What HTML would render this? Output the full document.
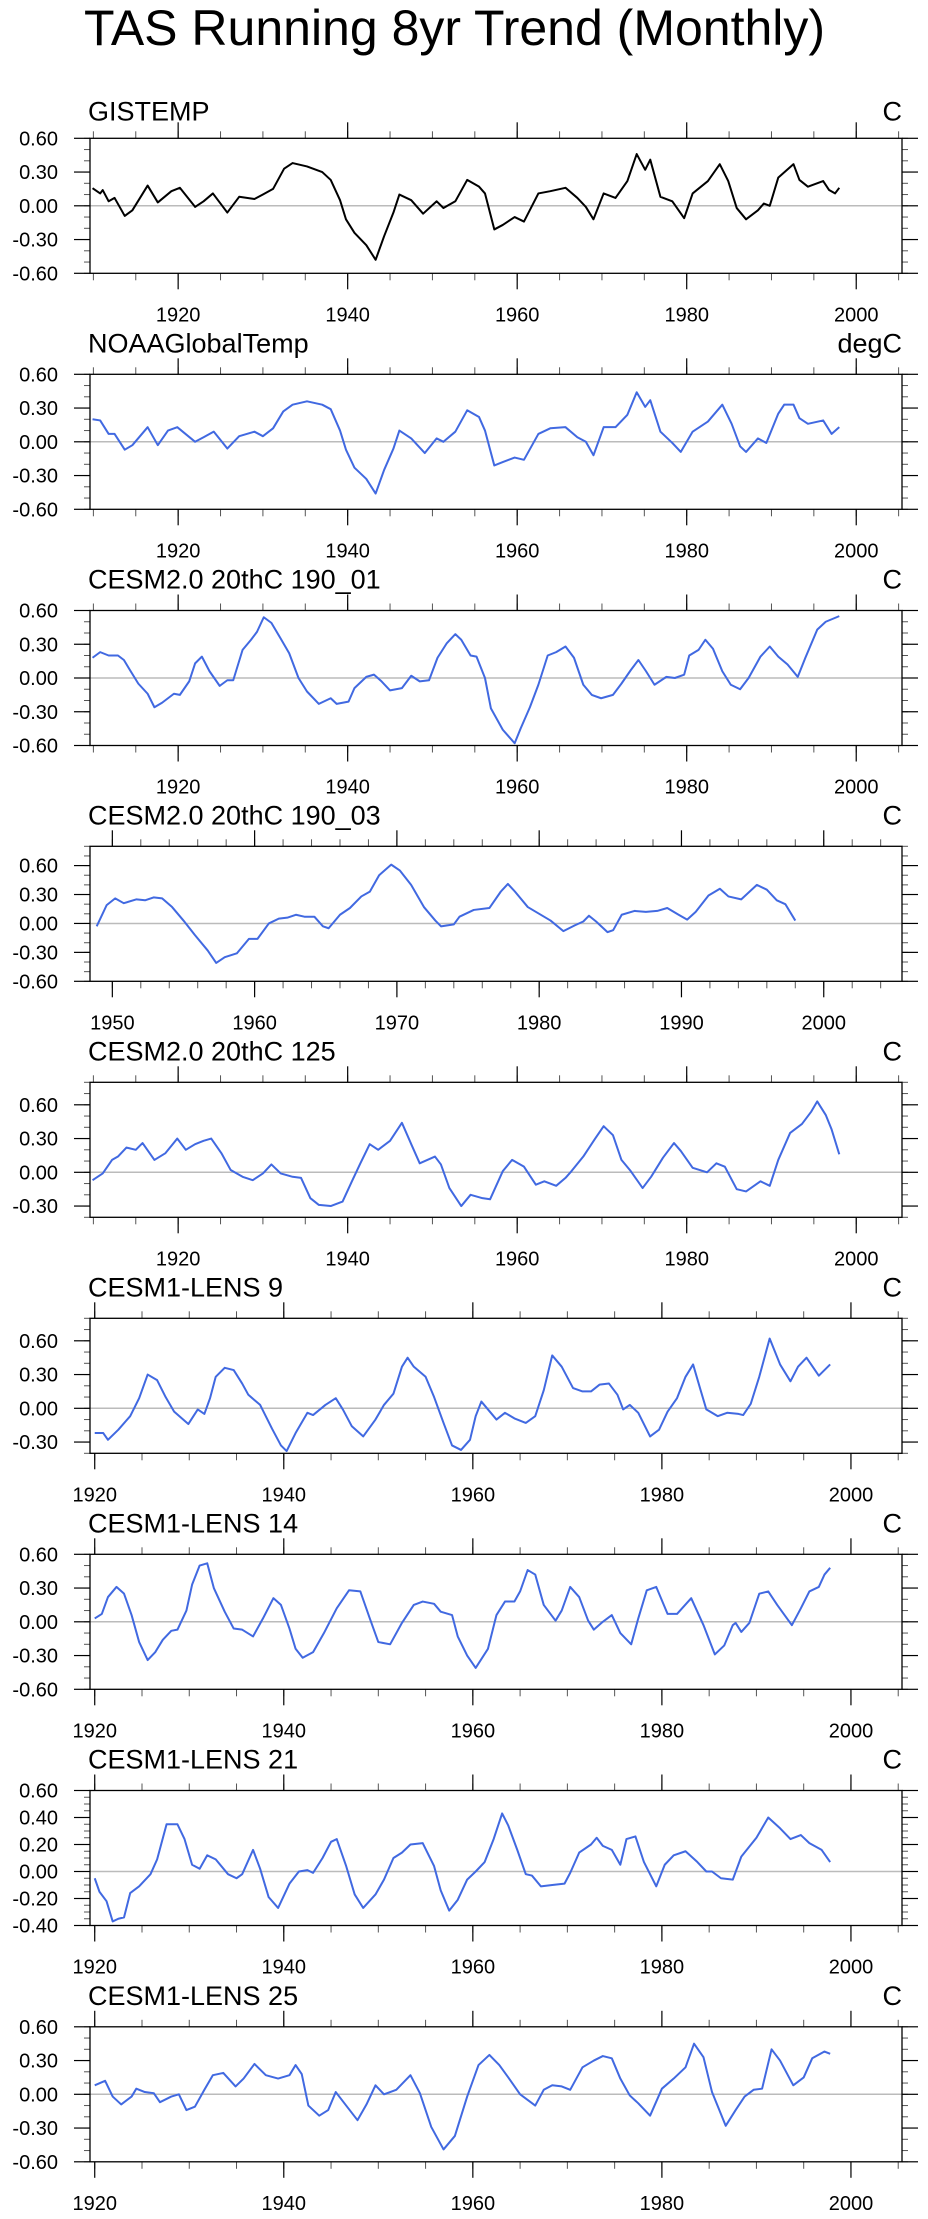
<!DOCTYPE html>
<html><head><meta charset="utf-8"><style>
html,body{margin:0;padding:0;background:#fff;}
svg{display:block;font-family:"Liberation Sans",Arial,sans-serif;}
</style></head><body>
<svg id="chart" width="928" height="2219" viewBox="0 0 928 2219" xmlns="http://www.w3.org/2000/svg">
<rect width="928" height="2219" fill="#fff"/>
<text x="84" y="45" font-size="50" fill="#000">TAS Running 8yr Trend (Monthly)</text>
</svg>
<script>
const titles = ["GISTEMP","NOAAGlobalTemp","CESM2.0 20thC 190_01","CESM2.0 20thC 190_03","CESM2.0 20thC 125","CESM1-LENS 9","CESM1-LENS 14","CESM1-LENS 21","CESM1-LENS 25"];
const units = ["C","degC","C","C","C","C","C","C","C"];
const yMins = [-0.6,-0.6,-0.6,-0.6,-0.4,-0.4,-0.6,-0.4,-0.6];
const yMaxs = [0.6,0.6,0.6,0.8,0.8,0.8,0.6,0.6,0.6];
const yTickLabels = [[0.6,0.3,0,-0.3,-0.6],[0.6,0.3,0,-0.3,-0.6],[0.6,0.3,0,-0.3,-0.6],[0.6,0.3,0,-0.3,-0.6],[0.6,0.3,0,-0.3],[0.6,0.3,0,-0.3],[0.6,0.3,0,-0.3,-0.6],[0.6,0.4,0.2,0,-0.2,-0.4],[0.6,0.3,0,-0.3,-0.6]];
const yMinorSteps = [0.1,0.1,0.1,0.1,0.1,0.1,0.1,0.05,0.1];
const xMins = [1909.6,1909.6,1909.6,1948.43,1909.6,1919.5,1919.5,1919.5,1919.5];
const xMaxs = [2005.4,2005.4,2005.4,2005.5,2005.4,2005.4,2005.4,2005.4,2005.4];
const xMajorSteps = [20,20,20,10,20,20,20,20,20];
const xMinorSteps = [5,5,5,2,5,5,5,5,5];
const lineColors = ["#000000","#4169e1","#4169e1","#4169e1","#4169e1","#4169e1","#4169e1","#4169e1","#4169e1"];

const years1 = [1909.9,1910.8,1911.1,1911.8,1912.5,1913.7,1914.6,1916.4,1917.6,1919.2,1920.2,1922.0,1923.0,1924.1,1925.8,1927.2,1929.0,1930.0,1931.2,1932.5,1933.5,1935.2,1937.0,1938.0,1939.1,1939.8,1940.8,1942.2,1943.3,1944.3,1945.4,1946.1,1947.5,1948.9,1950.5,1951.3,1952.7,1954.1,1955.5,1956.2,1957.3,1958.3,1959.7,1960.8,1962.5,1963.9,1965.7,1967.1,1968.1,1969.0,1970.2,1971.6,1973.0,1974.1,1975.1,1975.7,1976.9,1978.3,1979.7,1980.7,1982.5,1983.9,1984.9,1985.9,1987.0,1988.4,1989.1,1989.8,1990.8,1992.6,1993.3,1994.3,1996.1,1996.8,1997.5,1998.0];
const values1 = [.157,.11,.14,.04,.07,-.09,-.04,.18,.03,.13,.16,-.01,.04,.11,-.06,.08,.06,.10,.15,.33,.38,.35,.30,.23,.05,-.12,-.24,-.35,-.48,-.27,-.06,.10,.05,-.07,.04,-.02,.04,.23,.17,.11,-.21,-.17,-.10,-.14,.11,.13,.16,.07,-.01,-.12,.11,.07,.22,.46,.32,.41,.08,.04,-.11,.11,.22,.37,.22,-.02,-.12,-.04,.02,0,.25,.37,.23,.17,.22,.14,.11,.16];

const years2 = [1909.9,1910.8,1911.8,1912.5,1913.7,1914.6,1916.4,1917.6,1918.8,1919.9,1922.0,1923.0,1924.2,1925.8,1927.2,1929.0,1930.0,1931.2,1932.4,1933.5,1935.2,1937.0,1938.0,1939.1,1939.8,1940.8,1942.2,1943.3,1944.3,1945.4,1946.1,1947.5,1949.1,1950.5,1951.3,1952.7,1954.1,1955.5,1956.2,1957.3,1958.3,1959.7,1960.8,1962.5,1963.9,1965.7,1967.1,1968.1,1969.0,1970.2,1971.6,1973.0,1974.1,1975.1,1975.7,1976.9,1978.3,1979.3,1980.7,1982.5,1984.2,1985.3,1986.3,1987.0,1988.4,1989.4,1990.8,1991.5,1992.6,1993.3,1994.3,1996.1,1997.1,1998.0];
const values2 = [.20,.19,.07,.07,-.07,-.03,.13,-.03,.10,.13,0,.04,.09,-.06,.05,.09,.05,.12,.27,.33,.36,.33,.29,.10,-.07,-.23,-.33,-.46,-.25,-.06,.10,.03,-.10,.03,0,.09,.28,.22,.10,-.21,-.18,-.14,-.16,.07,.12,.13,.04,0,-.12,.13,.13,.24,.44,.31,.37,.09,-.01,-.09,.09,.18,.33,.16,-.04,-.09,.03,-.01,.25,.33,.33,.21,.16,.19,.07,.13];

const years3 = [1909.9,1910.8,1911.8,1912.9,1913.6,1914.4,1915.3,1916.4,1917.2,1918.1,1919.5,1920.2,1921.3,1922.0,1922.8,1923.7,1924.9,1925.8,1926.5,1927.6,1928.6,1929.3,1930.1,1931.0,1932.1,1933.1,1934.2,1935.2,1936.6,1938.0,1938.7,1940.1,1940.8,1942.2,1943.1,1944.0,1945.0,1946.4,1947.5,1948.5,1949.6,1950.6,1951.7,1952.7,1953.4,1954.5,1955.2,1956.2,1956.9,1958.3,1959.7,1960.4,1961.5,1962.5,1963.6,1964.6,1965.7,1966.7,1967.8,1968.8,1969.9,1971.3,1972.3,1973.4,1974.3,1975.2,1976.2,1977.6,1978.6,1979.7,1980.3,1981.4,1982.2,1983.1,1984.2,1985.2,1986.3,1987.3,1988.7,1989.8,1990.8,1991.9,1993.1,1994.0,1995.4,1996.4,1998.0];
const values3 = [.18,.23,.20,.20,.16,.06,-.05,-.14,-.26,-.22,-.14,-.15,-.03,.13,.19,.06,-.07,-.02,-.02,.25,.34,.41,.54,.49,.35,.22,0,-.12,-.23,-.18,-.23,-.21,-.09,.01,.03,-.03,-.11,-.09,.02,-.03,-.02,.18,.31,.39,.34,.20,.19,0,-.27,-.46,-.58,-.45,-.26,-.06,.20,.23,.28,.18,-.06,-.15,-.18,-.15,-.05,.07,.16,.06,-.06,.01,0,.03,.20,.25,.34,.26,.06,-.06,-.10,0,.19,.28,.19,.12,.01,.18,.43,.50,.55];

const years4 = [1948.9,1949.6,1950.2,1950.8,1951.7,1952.3,1952.9,1953.5,1954.2,1955.0,1955.8,1956.7,1957.3,1957.9,1958.75,1959.6,1960.2,1961.0,1961.7,1962.3,1962.9,1963.5,1964.2,1964.8,1965.2,1966.0,1966.7,1967.5,1968.1,1968.75,1969.6,1970.2,1971.0,1971.9,1972.7,1973.1,1974.0,1974.4,1975.4,1976.5,1977.3,1977.8,1978.3,1979.2,1980.0,1980.8,1981.7,1982.5,1983.1,1983.5,1984.0,1984.8,1985.2,1985.8,1986.7,1987.5,1988.3,1989.0,1989.8,1990.4,1991.0,1991.9,1992.7,1993.3,1994.2,1995.3,1996.0,1996.7,1997.3,1998.0];
const values4 = [-.03,.19,.26,.21,.25,.24,.27,.26,.17,.03,-.12,-.28,-.41,-.35,-.31,-.16,-.16,0,.05,.06,.09,.07,.07,-.03,-.05,.09,.16,.28,.33,.50,.61,.55,.40,.17,.03,-.03,-.01,.07,.14,.16,.33,.41,.33,.17,.10,.03,-.08,-.02,.02,.08,.02,-.09,-.07,.09,.13,.12,.13,.16,.09,.04,.12,.29,.36,.28,.25,.40,.35,.24,.20,.03];

const years5 = [1909.9,1911.1,1912.2,1912.9,1913.9,1915.0,1915.8,1917.2,1918.5,1919.9,1920.9,1922.0,1923.0,1923.9,1925.1,1926.2,1927.6,1928.8,1930.0,1931.0,1932.1,1933.5,1934.5,1935.6,1936.6,1938.0,1939.4,1940.5,1941.5,1942.6,1943.6,1945.0,1946.4,1947.5,1948.5,1950.3,1951.0,1952.0,1953.4,1954.5,1955.9,1956.8,1958.3,1959.4,1960.8,1962.2,1963.2,1964.6,1965.7,1966.4,1967.8,1969.2,1970.2,1971.3,1972.3,1973.4,1974.8,1975.8,1977.2,1978.5,1979.3,1980.7,1982.4,1983.5,1984.5,1985.9,1987.0,1988.7,1989.8,1990.8,1992.2,1993.6,1994.7,1995.4,1996.4,1997.1,1998.0];
const values5 = [-.07,-.01,.11,.14,.22,.20,.26,.11,.17,.30,.20,.25,.28,.30,.17,.02,-.04,-.07,-.01,.07,-.01,-.04,-.05,-.23,-.29,-.30,-.26,-.08,.08,.25,.20,.28,.44,.25,.08,.14,.07,-.14,-.30,-.20,-.23,-.24,.01,.11,.05,-.11,-.08,-.12,-.05,.01,.14,.30,.41,.33,.11,.01,-.14,-.04,.13,.26,.19,.04,0,.08,.05,-.15,-.17,-.08,-.12,.11,.35,.43,.54,.63,.51,.38,.16];

const years6 = [1920.0,1920.9,1921.4,1922.5,1923.75,1924.7,1925.6,1926.6,1927.5,1928.4,1929.9,1930.9,1931.6,1932.2,1932.8,1933.75,1934.7,1935.6,1936.25,1937.5,1938.75,1939.7,1940.3,1941.25,1942.5,1943.1,1944.4,1945.5,1946.25,1947.2,1948.4,1949.7,1950.6,1951.6,1952.5,1953.1,1953.75,1955.0,1955.9,1956.9,1957.8,1958.75,1959.7,1960.3,1960.9,1961.6,1962.5,1963.4,1964.4,1965.6,1966.6,1967.5,1968.4,1969.4,1970.6,1971.6,1972.5,1973.4,1974.4,1975.3,1975.9,1976.6,1977.5,1978.75,1979.7,1980.6,1981.6,1982.5,1983.3,1984.1,1984.7,1985.9,1986.9,1988.1,1988.6,1989.4,1990.3,1991.4,1992.5,1993.6,1994.4,1995.3,1996.6,1997.8];
const values6 = [-.22,-.22,-.28,-.19,-.07,.09,.30,.25,.10,-.03,-.14,-.01,-.05,.09,.28,.36,.34,.22,.12,.03,-.18,-.33,-.38,-.22,-.04,-.06,.03,.09,-.01,-.16,-.25,-.10,.03,.13,.37,.45,.37,.28,.10,-.13,-.33,-.37,-.28,-.07,.06,-.01,-.10,-.04,-.09,-.13,-.07,.16,.47,.37,.18,.15,.15,.21,.22,.12,-.01,.03,-.04,-.25,-.19,-.03,.09,.28,.39,.16,-.01,-.07,-.04,-.05,-.06,.04,.28,.62,.39,.24,.37,.45,.29,.39];

const years7 = [1920.0,1920.75,1921.4,1922.3,1923.1,1923.9,1924.7,1925.6,1926.4,1927.2,1928.1,1928.75,1929.7,1930.3,1931.1,1931.9,1932.6,1933.75,1934.7,1935.6,1936.75,1937.8,1938.9,1939.7,1940.6,1941.25,1942.0,1943.1,1944.25,1945.6,1946.9,1948.1,1949.1,1950.0,1951.25,1952.5,1953.75,1954.7,1955.9,1956.6,1957.8,1958.4,1959.4,1960.3,1961.6,1962.5,1963.4,1964.4,1965.0,1965.8,1966.6,1967.5,1968.75,1969.4,1970.3,1971.25,1972.2,1972.8,1973.75,1974.7,1975.6,1976.75,1977.5,1978.4,1979.4,1980.6,1981.6,1983.1,1984.4,1985.6,1986.6,1987.5,1987.8,1988.4,1989.25,1990.3,1991.25,1992.2,1993.75,1994.7,1995.6,1996.6,1997.2,1997.8];
const values7 = [.03,.07,.22,.31,.25,.06,-.18,-.34,-.27,-.16,-.08,-.07,.10,.33,.50,.52,.30,.09,-.06,-.07,-.13,.03,.21,.15,-.06,-.24,-.32,-.27,-.10,.12,.28,.27,.03,-.18,-.20,-.01,.15,.18,.16,.09,.06,-.13,-.30,-.41,-.24,.06,.18,.18,.27,.46,.42,.15,.01,.10,.31,.22,.01,-.07,0,.06,-.10,-.20,.03,.28,.31,.07,.07,.21,-.03,-.29,-.21,-.03,-.01,-.09,-.01,.25,.27,.15,-.03,.12,.27,.31,.42,.48];

const years8 = [1920.0,1920.5,1921.25,1921.9,1922.5,1923.1,1923.75,1924.7,1925.9,1926.6,1927.6,1928.75,1929.5,1930.3,1931.1,1931.9,1932.8,1934.1,1935.0,1935.6,1936.75,1937.5,1938.4,1939.4,1940.6,1941.6,1942.5,1943.1,1944.1,1945.0,1945.6,1946.6,1947.5,1948.4,1949.7,1950.6,1951.6,1952.5,1953.4,1954.7,1955.9,1956.6,1957.5,1958.4,1959.4,1960.3,1961.25,1962.2,1963.1,1963.75,1964.7,1965.6,1966.25,1967.2,1968.4,1969.7,1970.3,1971.25,1972.5,1973.1,1973.75,1974.7,1975.6,1976.25,1977.2,1978.1,1979.4,1980.3,1981.25,1982.5,1983.75,1984.7,1985.3,1986.25,1987.5,1988.4,1990.0,1991.25,1992.5,1993.6,1994.7,1995.6,1996.9,1997.8];
const values8 = [-.05,-.15,-.22,-.37,-.35,-.34,-.16,-.11,-.02,.09,.35,.35,.24,.05,.02,.12,.09,-.02,-.05,-.02,.16,.02,-.19,-.27,-.09,0,.01,-.01,.10,.22,.24,.04,-.17,-.27,-.17,-.06,.10,.14,.20,.21,.04,-.14,-.29,-.21,-.06,0,.07,.24,.43,.34,.16,-.02,-.03,-.11,-.10,-.09,-.01,.14,.20,.25,.19,.16,.05,.24,.26,.07,-.11,.05,.12,.15,.07,0,0,-.05,-.06,.11,.25,.40,.32,.24,.27,.21,.16,.07];

const years9 = [1920.0,1921.1,1921.9,1922.8,1923.9,1924.4,1925.3,1926.25,1926.9,1928.1,1928.9,1929.7,1930.6,1931.6,1932.5,1933.6,1934.9,1935.75,1936.9,1938.1,1939.4,1940.6,1941.25,1941.9,1942.6,1943.75,1944.7,1945.5,1946.6,1947.8,1948.75,1949.7,1950.6,1951.9,1953.4,1954.4,1955.6,1956.9,1958.1,1959.4,1960.6,1961.75,1962.8,1963.75,1965.0,1966.6,1967.5,1968.4,1969.4,1970.3,1971.6,1972.8,1973.75,1974.7,1975.6,1976.6,1977.5,1978.75,1980.0,1981.25,1982.5,1983.4,1984.4,1985.3,1986.75,1987.8,1988.75,1989.7,1990.6,1991.6,1992.5,1993.9,1995.0,1995.9,1997.2,1997.8];
const values9 = [.08,.12,-.02,-.09,-.02,.05,.02,.01,-.07,-.02,0,-.14,-.11,.04,.17,.19,.07,.14,.27,.17,.14,.17,.26,.18,-.10,-.19,-.14,.02,-.10,-.23,-.09,.08,0,.04,.17,.01,-.29,-.49,-.37,-.02,.26,.35,.26,.15,0,-.10,.04,.08,.07,.04,.24,.30,.34,.32,.14,-.01,-.08,-.19,.05,.14,.24,.45,.33,.02,-.28,-.14,-.02,.04,.05,.40,.30,.08,.15,.32,.38,.36];

const allYears = [years1,years2,years3,years4,years5,years6,years7,years8,years9];
const allValues = [values1,values2,values3,values4,values5,values6,values7,values8,values9];

const svg = document.getElementById('chart');
const NS = 'http://www.w3.org/2000/svg';
const L = 90, R = 902, H = 135;
const tops = [138.3, 374.3, 610.5, 846.3, 1082.3, 1318.3, 1554.3, 1790.5, 2026.8];
const labelOff = [17.6, 22, 22, 22, 22, 22, 22, 22, 22];

function mk(tag, attrs, parent) {
  const e = document.createElementNS(NS, tag);
  for (const k in attrs) e.setAttribute(k, attrs[k]);
  (parent || svg).appendChild(e);
  return e;
}

for (let p = 0; p < 9; p++) {
  const top = tops[p], bot = top + H;
  const xMin = xMins[p], xMax = xMaxs[p], yMin = yMins[p], yMax = yMaxs[p];
  const xs = v => L + (v - xMin) / (xMax - xMin) * (R - L);
  const ys = v => bot - (v - yMin) / (yMax - yMin) * H;
  const g = mk('g', {});
  
  

  const t = mk('text', {x: 88, y: top - labelOff[p], 'font-size': 27, fill: '#000'}, g);
  t.textContent = titles[p];
  
  
  const u = mk('text', {x: 902, y: top - labelOff[p], 'font-size': 27, fill: '#000', 'text-anchor': 'end'}, g);
  u.textContent = units[p];
  
  

  // zero line
  const z = mk('line', {x1: L, x2: R, y1: ys(0), y2: ys(0), stroke: '#bbb', 'stroke-width': 1.5}, g);
  
  

  // y ticks
  const yStep = yMinorSteps[p];
  for (let k = Math.ceil(yMin / yStep - 1e-6); k * yStep <= yMax + 1e-6; k++) {
    const v = k * yStep, y = ys(v);
    mk('line', {x1: L - 6, x2: L, y1: y, y2: y, stroke: '#555', 'stroke-width': 1}, g);
    mk('line', {x1: R, x2: R + 6, y1: y, y2: y, stroke: '#555', 'stroke-width': 1}, g);
  }
  yTickLabels[p].forEach(v => {
    const y = ys(v);
    mk('line', {x1: L - 16, x2: L, y1: y, y2: y, stroke: '#000', 'stroke-width': 1.2}, g);
    mk('line', {x1: R, x2: R + 16, y1: y, y2: y, stroke: '#000', 'stroke-width': 1.2}, g);
    const lt = mk('text', {x: 58, y: y + 7, 'font-size': 20, 'text-anchor': 'end', fill: '#000'}, g);
    lt.textContent = v.toFixed(2);
    
    
  });

  // x ticks
  const xm = xMinorSteps[p];
  for (let yr = Math.ceil(xMin / xm) * xm; yr <= xMax; yr += xm) {
    const x = xs(yr);
    mk('line', {x1: x, x2: x, y1: bot, y2: bot + 7, stroke: '#555', 'stroke-width': 1}, g);
    mk('line', {x1: x, x2: x, y1: top - 7, y2: top, stroke: '#555', 'stroke-width': 1}, g);
  }
  const xM = xMajorSteps[p];
  for (let yr = Math.ceil(xMin / xM) * xM; yr <= xMax; yr += xM) {
    const x = xs(yr);
    mk('line', {x1: x, x2: x, y1: bot, y2: bot + 16, stroke: '#000', 'stroke-width': 1.2}, g);
    mk('line', {x1: x, x2: x, y1: top - 16, y2: top, stroke: '#000', 'stroke-width': 1.2}, g);
    const xt = mk('text', {x: x, y: bot + 48, 'font-size': 20, 'text-anchor': 'middle', fill: '#000'}, g);
    xt.textContent = String(yr);
    
    
  }

  // frame
  const fr = mk('rect', {x: L, y: top, width: R - L, height: H, fill: 'none', stroke: '#000', 'stroke-width': 1.3}, g);
  
  

  // series
  const yrs = allYears[p], vals = allValues[p];
  const n = Math.min(yrs.length, vals.length);
  let d = '';
  for (let i = 0; i < n; i++) d += (i ? 'L' : 'M') + xs(yrs[i]).toFixed(2) + ',' + ys(vals[i]).toFixed(2);
  const path = mk('path', {d: d, fill: 'none', stroke: lineColors[p], 'stroke-width': 2, 'stroke-linejoin': 'round'}, g);
  
  
}
</script>
</body></html>
